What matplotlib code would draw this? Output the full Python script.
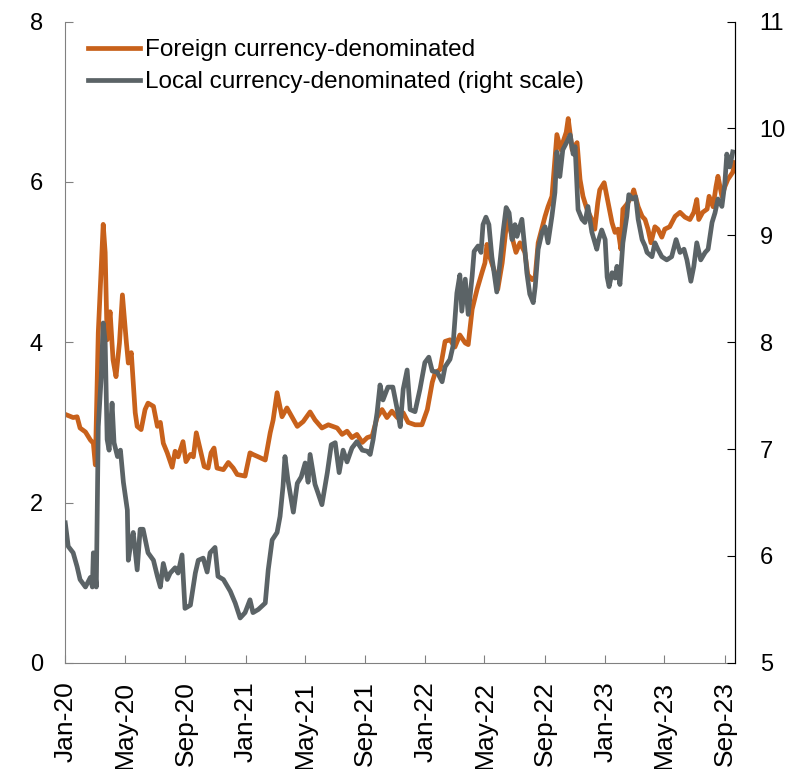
import pandas as pd
import numpy as np
import matplotlib
matplotlib.use("Agg")
import matplotlib.pyplot as plt
import matplotlib.dates as mdates

plt.rcParams['font.family'] = ['Liberation Sans', 'DejaVu Sans']

# Foreign currency-denominated (left scale)
foreign_dates = [
    "2020-01-01", "2020-01-17", "2020-01-25", "2020-01-31", "2020-02-11", "2020-02-21", "2020-02-27",
    "2020-03-02", "2020-03-08", "2020-03-18", "2020-03-22", "2020-03-26", "2020-04-01", "2020-04-07",
    "2020-04-13", "2020-04-20", "2020-04-26", "2020-05-04", "2020-05-08", "2020-05-14", "2020-05-18",
    "2020-05-22", "2020-05-26", "2020-06-03", "2020-06-11", "2020-06-17", "2020-06-28", "2020-07-06",
    "2020-07-12", "2020-07-18", "2020-07-26", "2020-08-05", "2020-08-11", "2020-08-17", "2020-08-27",
    "2020-09-02", "2020-09-11", "2020-09-17", "2020-09-23", "2020-10-01", "2020-10-09", "2020-10-17",
    "2020-10-23", "2020-10-29", "2020-11-04", "2020-11-17", "2020-11-27", "2020-12-07", "2020-12-15",
    "2020-12-31", "2021-01-10", "2021-01-16", "2021-01-27", "2021-02-10", "2021-02-20", "2021-02-26",
    "2021-03-06", "2021-03-16", "2021-03-26", "2021-04-06", "2021-04-16", "2021-04-28", "2021-05-12",
    "2021-05-22", "2021-06-05", "2021-06-18", "2021-07-06", "2021-07-16", "2021-07-26", "2021-08-05",
    "2021-08-15", "2021-08-26", "2021-09-05", "2021-09-15", "2021-09-25", "2021-10-05", "2021-10-15",
    "2021-10-25", "2021-11-05", "2021-11-17", "2021-11-27", "2021-12-11", "2021-12-25", "2022-01-05",
    "2022-01-15", "2022-01-21", "2022-01-31", "2022-02-10", "2022-02-20", "2022-03-02", "2022-03-12",
    "2022-03-23", "2022-03-29", "2022-04-06", "2022-04-16", "2022-04-26", "2022-05-02", "2022-05-06",
    "2022-05-12", "2022-05-22", "2022-05-28", "2022-06-06", "2022-06-12", "2022-06-16", "2022-06-26",
    "2022-07-04", "2022-07-12", "2022-07-22", "2022-07-28", "2022-08-06", "2022-08-12", "2022-08-18",
    "2022-08-26", "2022-09-01", "2022-09-07", "2022-09-15", "2022-09-21", "2022-09-25", "2022-10-03",
    "2022-10-07", "2022-10-14", "2022-10-18", "2022-10-26", "2022-11-05", "2022-11-11", "2022-11-17",
    "2022-11-25", "2022-12-05", "2022-12-11", "2022-12-17", "2022-12-21", "2022-12-30", "2023-01-07",
    "2023-01-15", "2023-01-21", "2023-01-27", "2023-02-02", "2023-02-06", "2023-02-14", "2023-02-24",
    "2023-02-28", "2023-03-09", "2023-03-17", "2023-03-23", "2023-03-29", "2023-04-04", "2023-04-12",
    "2023-04-18", "2023-04-26", "2023-05-02", "2023-05-12", "2023-05-23", "2023-06-02", "2023-06-12",
    "2023-06-22", "2023-06-30", "2023-07-06", "2023-07-10", "2023-07-18", "2023-07-27", "2023-07-31",
    "2023-08-08", "2023-08-14", "2023-08-18", "2023-08-26", "2023-09-01", "2023-09-07", "2023-09-17",
    "2023-09-21",
]
foreign_vals = [
    3.10, 3.06, 3.07, 2.93, 2.88, 2.78, 2.74,
    2.47, 4.12, 5.47, 5.12, 4.03, 4.38, 3.78,
    3.57, 3.99, 4.59, 4.00, 3.74, 3.87, 3.49,
    3.12, 2.95, 2.91, 3.16, 3.24, 3.20, 2.95,
    3.00, 2.74, 2.62, 2.44, 2.64, 2.57, 2.76,
    2.51, 2.60, 2.57, 2.87, 2.66, 2.45, 2.43,
    2.62, 2.68, 2.43, 2.41, 2.50, 2.43, 2.35,
    2.33, 2.62, 2.60, 2.57, 2.53, 2.87, 3.03,
    3.37, 3.07, 3.18, 3.06, 2.95, 3.01, 3.13,
    3.03, 2.93, 2.97, 2.93, 2.85, 2.89, 2.81,
    2.85, 2.75, 2.81, 2.83, 3.06, 3.16, 3.06,
    3.14, 3.06, 3.12, 3.00, 2.97, 2.97, 3.16,
    3.50, 3.62, 3.66, 4.01, 4.03, 3.94, 4.09,
    3.99, 3.97, 4.41, 4.66, 4.87, 4.99, 5.22,
    5.06, 4.87, 4.66, 4.99, 5.32, 5.57, 5.31,
    5.12, 5.24, 5.12, 4.84, 4.78, 4.82, 5.24,
    5.43, 5.57, 5.69, 5.82, 6.28, 6.59, 6.40,
    6.49, 6.62, 6.79, 6.40, 6.49, 6.03, 5.82,
    5.66, 5.53, 5.41, 5.74, 5.90, 5.99, 5.74,
    5.49, 5.37, 5.41, 5.16, 5.66, 5.72, 5.82,
    5.90, 5.69, 5.57, 5.53, 5.41, 5.24, 5.44,
    5.41, 5.31, 5.41, 5.44, 5.57, 5.62, 5.56,
    5.53, 5.62, 5.78, 5.53, 5.62, 5.66, 5.82,
    5.69, 5.94, 6.07, 5.82, 5.94, 6.03, 6.12,
    6.24,
]

# Local currency-denominated (right scale)
local_dates = [
    "2020-01-01", "2020-01-07", "2020-01-17", "2020-01-25", "2020-01-31", "2020-02-11", "2020-02-21",
    "2020-02-25", "2020-02-27", "2020-03-04", "2020-03-08", "2020-03-14", "2020-03-18", "2020-03-22",
    "2020-03-26", "2020-03-30", "2020-04-05", "2020-04-09", "2020-04-16", "2020-04-22", "2020-04-28",
    "2020-05-06", "2020-05-08", "2020-05-14", "2020-05-18", "2020-05-26", "2020-06-01", "2020-06-07",
    "2020-06-17", "2020-06-28", "2020-07-06", "2020-07-12", "2020-07-18", "2020-07-26", "2020-08-01",
    "2020-08-11", "2020-08-17", "2020-08-25", "2020-08-31", "2020-09-11", "2020-09-21", "2020-09-27",
    "2020-10-07", "2020-10-15", "2020-10-21", "2020-10-31", "2020-11-06", "2020-11-17", "2020-12-01",
    "2020-12-11", "2020-12-21", "2020-12-31", "2021-01-10", "2021-01-16", "2021-01-27", "2021-02-10",
    "2021-02-16", "2021-02-24", "2021-03-06", "2021-03-12", "2021-03-18", "2021-03-22", "2021-03-28",
    "2021-04-08", "2021-04-16", "2021-04-24", "2021-05-02", "2021-05-08", "2021-05-12", "2021-05-22",
    "2021-05-28", "2021-06-05", "2021-06-16", "2021-06-24", "2021-07-02", "2021-07-10", "2021-07-18",
    "2021-07-26", "2021-08-05", "2021-08-15", "2021-08-26", "2021-09-05", "2021-09-11", "2021-09-17",
    "2021-09-25", "2021-10-01", "2021-10-07", "2021-10-17", "2021-10-27", "2021-11-05", "2021-11-11",
    "2021-11-17", "2021-11-25", "2021-12-01", "2021-12-11", "2021-12-21", "2021-12-31", "2022-01-08",
    "2022-01-15", "2022-01-25", "2022-02-04", "2022-02-10", "2022-02-20", "2022-02-26", "2022-03-06",
    "2022-03-12", "2022-03-16", "2022-03-23", "2022-03-29", "2022-04-06", "2022-04-10", "2022-04-18",
    "2022-04-24", "2022-04-28", "2022-05-04", "2022-05-10", "2022-05-16", "2022-05-26", "2022-06-02",
    "2022-06-08", "2022-06-14", "2022-06-20", "2022-06-26", "2022-07-02", "2022-07-06", "2022-07-16",
    "2022-07-22", "2022-07-26", "2022-08-01", "2022-08-08", "2022-08-12", "2022-08-18", "2022-08-26",
    "2022-09-01", "2022-09-07", "2022-09-15", "2022-09-21", "2022-09-25", "2022-10-01", "2022-10-07",
    "2022-10-16", "2022-10-22", "2022-10-28", "2022-11-01", "2022-11-07", "2022-11-15", "2022-11-21",
    "2022-11-27", "2022-12-05", "2022-12-15", "2022-12-19", "2022-12-25", "2023-01-01", "2023-01-05",
    "2023-01-09", "2023-01-15", "2023-01-21", "2023-01-25", "2023-01-31", "2023-02-06", "2023-02-14",
    "2023-02-18", "2023-02-26", "2023-03-04", "2023-03-09", "2023-03-17", "2023-03-23", "2023-03-27",
    "2023-04-06", "2023-04-12", "2023-04-18", "2023-04-26", "2023-05-06", "2023-05-16", "2023-05-25",
    "2023-06-02", "2023-06-10", "2023-06-16", "2023-06-24", "2023-06-30", "2023-07-06", "2023-07-14",
    "2023-07-23", "2023-07-29", "2023-08-06", "2023-08-12", "2023-08-18", "2023-08-26", "2023-09-01",
    "2023-09-05", "2023-09-11", "2023-09-17",
]
local_vals = [
    6.31, 6.09, 6.03, 5.90, 5.78, 5.71, 5.80,
    5.71, 6.03, 5.71, 7.21, 7.68, 8.18, 8.00,
    7.09, 6.99, 7.43, 7.06, 6.93, 6.99, 6.69,
    6.43, 5.96, 6.15, 6.22, 5.87, 6.25, 6.25,
    6.03, 5.96, 5.81, 5.71, 5.93, 5.78, 5.84,
    5.89, 5.84, 6.01, 5.51, 5.54, 5.84, 5.96,
    5.98, 5.85, 6.03, 6.08, 5.81, 5.78, 5.67,
    5.56, 5.42, 5.47, 5.59, 5.47, 5.50, 5.56,
    5.87, 6.15, 6.22, 6.37, 6.65, 6.93, 6.71,
    6.41, 6.68, 6.74, 6.87, 6.69, 6.95, 6.67,
    6.59, 6.48, 6.78, 7.04, 7.06, 6.78, 6.99,
    6.88, 7.01, 7.07, 6.99, 6.98, 6.95, 7.09,
    7.34, 7.60, 7.46, 7.58, 7.58, 7.37, 7.21,
    7.56, 7.74, 7.37, 7.35, 7.56, 7.81, 7.86,
    7.73, 7.72, 7.63, 7.77, 7.84, 7.96, 8.46,
    8.63, 8.29, 8.59, 8.26, 8.62, 8.85, 8.90,
    8.84, 9.10, 9.17, 9.10, 8.80, 8.47, 8.77,
    9.04, 9.26, 9.21, 8.96, 9.10, 8.99, 9.15,
    8.87, 8.65, 8.45, 8.37, 8.52, 8.87, 9.03,
    9.08, 8.93, 9.18, 9.40, 9.78, 9.55, 9.80,
    9.88, 9.94, 9.76, 9.83, 9.24, 9.15, 9.12,
    9.27, 9.03, 8.87, 8.96, 9.05, 8.96, 8.61,
    8.52, 8.65, 8.60, 8.71, 8.54, 8.93, 9.18,
    9.38, 9.34, 9.36, 9.15, 8.96, 8.90, 8.84,
    8.80, 8.93, 8.87, 8.80, 8.77, 8.80, 8.96,
    8.84, 8.87, 8.77, 8.57, 8.71, 8.93, 8.77,
    8.84, 8.87, 9.12, 9.21, 9.34, 9.27, 9.49,
    9.76, 9.64, 9.78,
]

orange = "#C8611B"
grey = "#5B6366"
axis_grey = "#808080"

fig = plt.figure(figsize=(7.96, 7.69), dpi=100)
ax = fig.add_axes([0.082, 0.138, 0.841, 0.834])
ax2 = ax.twinx()

fd = pd.to_datetime(foreign_dates)
ld = pd.to_datetime(local_dates)
l1, = ax.plot(fd, foreign_vals, color=orange, lw=3.4, label="Foreign currency-denominated")
l2, = ax2.plot(ld, local_vals, color=grey, lw=3.4, label="Local currency-denominated (right scale)")

ax.set_ylim(0, 8)
ax.set_yticks([0, 2, 4, 6, 8])
ax2.set_ylim(5, 11)
ax2.set_yticks([5, 6, 7, 8, 9, 10, 11])
ax.set_xlim(pd.Timestamp("2020-01-01"), pd.Timestamp("2023-09-21"))

ax.xaxis.set_major_locator(mdates.MonthLocator(bymonth=[1, 5, 9]))
ax.xaxis.set_major_formatter(mdates.DateFormatter("%b-%y"))
for lab in ax.get_xticklabels():
    lab.set_rotation(90)

ax.tick_params(axis="y", direction="in", length=6, labelsize=17, pad=16, color=axis_grey)
ax.tick_params(axis="x", direction="in", length=6, labelsize=19, pad=13, color=axis_grey)
ax2.tick_params(axis="y", direction="in", length=6, labelsize=17, pad=18, color="black")

for a in (ax, ax2):
    a.spines["top"].set_visible(False)
ax.spines["left"].set_color(axis_grey)
ax.spines["bottom"].set_color(axis_grey)
ax2.spines["left"].set_visible(False)
ax2.spines["bottom"].set_visible(False)
ax2.spines["right"].set_color("black")

leg = ax.legend(handles=[l1, l2], loc="upper left", bbox_to_anchor=(0.012, 0.995), frameon=False,
                fontsize=17.5, handlelength=2.15, handletextpad=0.2, labelspacing=0.4,
                borderaxespad=0.2)

fig.savefig("out.png", dpi=100)
